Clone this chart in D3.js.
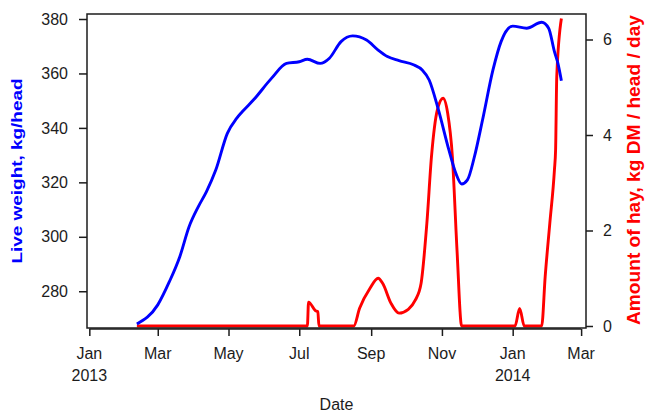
<!DOCTYPE html>
<html>
<head>
<meta charset="utf-8">
<script src="https://cdn.jsdelivr.net/npm/d3@7"></script>
<style>
  body { margin: 0; background: #fff; }
  svg { font-family: "Liberation Sans", Arial, sans-serif; }
</style>
</head>
<body>
<svg id="chart" width="645" height="412"></svg>
<script>
// live weight, kg/head (left axis)
const weightDates = ['2013-02-11', '2013-03-01', '2013-03-11', '2013-03-20', '2013-03-28', '2013-04-05',
    '2013-04-12', '2013-04-20', '2013-04-30', '2013-05-08', '2013-05-13', '2013-05-23', '2013-06-07',
    '2013-06-20', '2013-07-01', '2013-07-08', '2013-07-19', '2013-07-27', '2013-08-06', '2013-08-16',
    '2013-08-28', '2013-09-07', '2013-09-15', '2013-09-25', '2013-10-08', '2013-10-15', '2013-10-21',
    '2013-10-29', '2013-11-07', '2013-11-13', '2013-11-18', '2013-11-23', '2013-11-29', '2013-12-06',
    '2013-12-15', '2013-12-22', '2014-01-01', '2014-01-13', '2014-01-26', '2014-02-01', '2014-02-06',
    '2014-02-09', '2014-02-12'];
const weightValues = [268, 275, 283.5, 292.7, 303.7, 311.1, 316.6, 324.5, 338, 343.5, 346, 350.5, 358.2,
    363.7, 364.3, 365.2, 363.7, 365.6, 371.7, 373.8, 372.3, 368.6, 366.2, 364.7, 363.1, 361.3, 357.6,
    346.6, 331.9, 323.3, 319.4, 320.9, 329.4, 342.9, 361.3, 371.7, 377.4, 376.6, 378.8, 376.6, 368,
    363.7, 357.3];

// amount of hay, kg DM / head / day (right axis)
const hayDates = ['2013-02-11', '2013-07-08', '2013-07-09', '2013-07-15', '2013-07-17', '2013-07-18',
    '2013-08-17', '2013-08-22', '2013-08-31', '2013-09-07', '2013-09-11', '2013-09-18', '2013-09-25',
    '2013-10-03', '2013-10-09', '2013-10-14', '2013-10-19', '2013-10-23', '2013-10-28', '2013-11-02',
    '2013-11-06', '2013-11-10', '2013-11-14', '2013-11-18', '2014-01-03', '2014-01-07', '2014-01-11',
    '2014-01-26', '2014-01-29', '2014-02-02', '2014-02-06', '2014-02-07', '2014-02-08', '2014-02-12'];
const hayValues = [0, 0, 0.5, 0.32, 0.3, 0, 0, 0.37, 0.79, 1.0, 0.89, 0.48, 0.27, 0.35, 0.54, 0.89, 2.15,
    3.55, 4.52, 4.77, 4.45, 3.55, 1.59, 0, 0, 0.37, 0, 0, 1.03, 2.15, 3.27, 3.69, 5.22, 6.44];

const weightTicks = [280, 300, 320, 340, 360, 380];
const hayTicks = [0, 2, 4, 6];
const dateTicks = ['2013-01-01', '2013-03-01', '2013-05-01', '2013-07-01', '2013-09-01', '2013-11-01',
    '2014-01-01', '2014-03-01'];
const dateLabels = [['Jan', '2013'], ['Mar'], ['May'], ['Jul'], ['Sep'], ['Nov'], ['Jan', '2014'], ['Mar']];

const margin = { top: 14, right: 59, bottom: 84, left: 87 };
const width = 645 - margin.left - margin.right;
const height = 412 - margin.top - margin.bottom;
const ink = '#1c1c1c';

const parse = d3.utcParse('%Y-%m-%d');
const svg = d3.select('#chart')
    .append('g')
    .attr('transform', 'translate(' + margin.left + ',' + margin.top + ')');

const x = d3.scaleUtc()
    .domain([Date.UTC(2012, 11, 30), Date.UTC(2014, 2, 5, 5)])
    .range([0, width]);
const yLeft = d3.scaleLinear().domain([266.5, 381.84]).range([height, 0]);
const yRight = d3.scaleLinear().domain([-0.042, 6.534]).range([height, 0]);

// lines
const weight = weightDates.map((d, i) => ({ date: parse(d), value: weightValues[i] }));
const hay = hayDates.map((d, i) => ({ date: parse(d), value: hayValues[i] }));

svg.append('path')
    .datum(hay)
    .attr('fill', 'none')
    .attr('stroke', '#ff0000')
    .attr('stroke-width', 2.9)
    .attr('stroke-linejoin', 'round')
    .attr('d', d3.line().x(d => x(d.date)).y(d => yRight(d.value)).curve(d3.curveMonotoneX));

svg.append('path')
    .datum(weight)
    .attr('fill', 'none')
    .attr('stroke', '#0000ff')
    .attr('stroke-width', 2.9)
    .attr('stroke-linejoin', 'round')
    .attr('d', d3.line().x(d => x(d.date)).y(d => yLeft(d.value)).curve(d3.curveMonotoneX));

// box
svg.append('rect')
    .attr('width', width)
    .attr('height', height)
    .attr('fill', 'none')
    .attr('stroke', ink)
    .attr('stroke-width', 1.5);

// axes
const left = svg.append('g')
    .call(d3.axisLeft(yLeft).tickValues(weightTicks).tickSize(8).tickPadding(11));
const right = svg.append('g')
    .attr('transform', 'translate(' + width + ',0)')
    .call(d3.axisRight(yRight).tickValues(hayTicks).tickSize(7).tickPadding(10).tickFormat(d3.format('d')));
const bottom = svg.append('g')
    .attr('transform', 'translate(0,' + (height + 1) + ')')
    .call(d3.axisBottom(x).tickValues(dateTicks.map(parse)).tickSize(7).tickFormat(''));

[left, right, bottom].forEach(g => {
    g.select('.domain').remove();
    g.selectAll('line').attr('stroke', ink).attr('stroke-width', 1.5);
    g.selectAll('text').attr('font-size', 16).attr('fill', ink).style('font-family', '"Liberation Sans", Arial, sans-serif');
});

// bottom axis line from first to last tick
bottom.append('line')
    .attr('x1', x(parse(dateTicks[0])))
    .attr('x2', x(parse(dateTicks[dateTicks.length - 1])))
    .attr('stroke', ink)
    .attr('stroke-width', 1.5);

// two-line date labels
svg.append('g')
    .selectAll('text')
    .data(dateTicks)
    .join('text')
    .attr('x', d => x(parse(d)))
    .attr('y', height + 31)
    .attr('text-anchor', 'middle')
    .attr('font-size', 16)
    .attr('fill', ink)
    .selectAll('tspan')
    .data((d, i) => dateLabels[i])
    .join('tspan')
    .attr('x', function () { return this.parentNode.getAttribute('x'); })
    .attr('dy', (d, i) => (i === 0 ? 0 : 22))
    .text(d => d);

// axis titles (stretched along their length like the original)
svg.append('text')
    .attr('transform', 'translate(' + (-65) + ',' + (height / 2) + ') rotate(-90)')
    .attr('text-anchor', 'middle')
    .attr('font-size', 14)
    .attr('font-weight', 'bold')
    .attr('fill', '#0000ff')
    .attr('textLength', 185)
    .attr('lengthAdjust', 'spacingAndGlyphs')
    .text('Live weight, kg/head');

svg.append('text')
    .attr('transform', 'translate(' + (width + 54) + ',' + (height / 2 - 1) + ') rotate(-90)')
    .attr('text-anchor', 'middle')
    .attr('font-size', 18)
    .attr('font-weight', 'bold')
    .attr('fill', '#ff0000')
    .attr('textLength', 310)
    .attr('lengthAdjust', 'spacingAndGlyphs')
    .text('Amount of hay, kg DM / head / day');

svg.append('text')
    .attr('x', width / 2)
    .attr('y', height + 82)
    .attr('text-anchor', 'middle')
    .attr('font-size', 16)
    .attr('fill', ink)
    .text('Date');
</script>
</body>
</html>
